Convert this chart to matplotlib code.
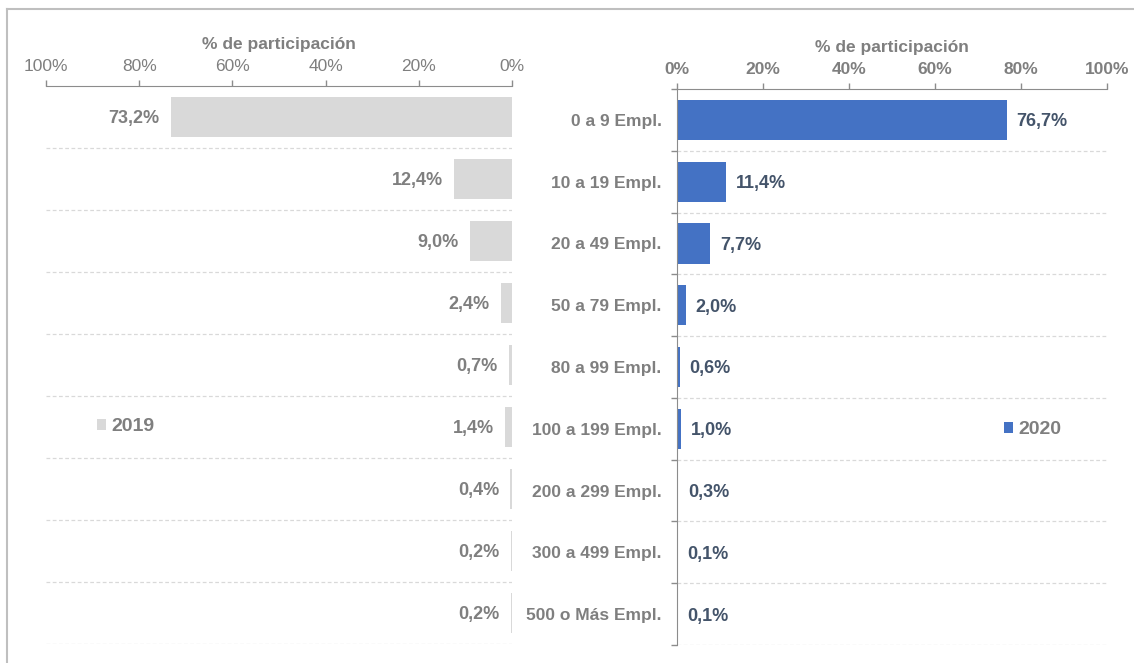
import matplotlib.pyplot as plt
from matplotlib.lines import Line2D
import numpy as np

plt.rcParams['font.family'] = ['Liberation Sans', 'DejaVu Sans']

categories = ['0 a 9 Empl.', '10 a 19 Empl.', '20 a 49 Empl.', '50 a 79 Empl.',
              '80 a 99 Empl.', '100 a 199 Empl.', '200 a 299 Empl.',
              '300 a 499 Empl.', '500 o Más Empl.']
share_2019 = [73.2, 12.4, 9.0, 2.4, 0.7, 1.4, 0.4, 0.2, 0.2]
share_2020 = [76.7, 11.4, 7.7, 2.0, 0.6, 1.0, 0.3, 0.1, 0.1]
xticks = [0, 20, 40, 60, 80, 100]

c_2019 = '#d9d9d9'
c_2020 = '#4472c4'
c_text = '#7f7f7f'
c_value = '#44546a'
c_grid = '#d9d9d9'
c_axis = '#8c8c8c'

fs = 12.5


def pct(v):
    return ('%.1f%%' % v).replace('.', ',')


fig = plt.figure(figsize=(11.34, 6.63), dpi=100)

# outer frame (left and top edges only are inside the canvas)
fig.add_artist(Line2D([7 / 1134, 7 / 1134], [0, 1 - 9 / 663],
                      transform=fig.transFigure, color='#bfbfbf', lw=1.5))
fig.add_artist(Line2D([7 / 1134, 1], [1 - 9 / 663, 1 - 9 / 663],
                      transform=fig.transFigure, color='#bfbfbf', lw=1.5))

ypos = np.arange(len(categories))
bounds = np.arange(len(categories) + 1) - 0.5

#---- 2019, mirrored

ax1 = fig.add_axes([46 / 1134, 1 - 644 / 663, 466 / 1134, 558 / 663])
ax1.barh(ypos, share_2019, height=0.65, color=c_2019, label='2019')
ax1.set_xlim(100, 0)
ax1.set_ylim(bounds[-1], bounds[0])
ax1.xaxis.set_ticks_position('top')
ax1.xaxis.set_label_position('top')
ax1.set_xticks(xticks)
ax1.set_xticklabels(['%d%%' % t for t in xticks])
ax1.set_yticks([])
ax1.tick_params(axis='x', length=4.5, width=1, color=c_axis, pad=4,
                labelsize=fs, labelcolor=c_text)
ax1.set_xlabel('% de participación', fontsize=fs, fontweight='bold',
               color=c_text, labelpad=7)
for s in ['left', 'right', 'bottom']:
    ax1.spines[s].set_visible(False)
ax1.spines['top'].set_color(c_axis)
for b in bounds[1:]:
    ax1.axhline(b, color=c_grid, lw=0.9, ls=(0, (3, 2)), zorder=0)
for y, v in zip(ypos, share_2019):
    ax1.annotate(pct(v), (v, y), xytext=(-8, 0), textcoords='offset points',
                 ha='right', va='center_baseline', fontsize=13,
                 fontweight='bold', color=c_text)
ax1.legend(loc='center left', bbox_to_anchor=(0.11, 0.389), frameon=False,
           handlelength=0.45, handleheight=0.45, handletextpad=0.3,
           borderpad=0, borderaxespad=0, labelcolor=c_text,
           prop={'size': 14, 'weight': 'bold'})

#---- 2020

ax2 = fig.add_axes([677 / 1134, 1 - 645 / 663, 430 / 1134, 556 / 663])
ax2.barh(ypos, share_2020, height=0.65, color=c_2020, label='2020')
ax2.set_xlim(0, 100)
ax2.set_ylim(bounds[-1], bounds[0])
ax2.xaxis.set_ticks_position('top')
ax2.xaxis.set_label_position('top')
ax2.set_xticks(xticks)
ax2.set_xticklabels(['%d%%' % t for t in xticks], fontweight='bold')
ax2.tick_params(axis='x', length=4.5, width=1, color=c_axis, pad=4,
                labelsize=fs, labelcolor=c_text)
ax2.set_xlabel('% de participación', fontsize=fs, fontweight='bold',
               color=c_text, labelpad=7)
ax2.set_yticks(ypos)
ax2.set_yticklabels(categories, fontweight='bold')
ax2.tick_params(axis='y', which='major', length=0, pad=11, labelsize=fs,
                labelcolor=c_text)
ax2.set_yticks(bounds, minor=True)
ax2.tick_params(axis='y', which='minor', length=4.5, width=1, color=c_axis)
for s in ['right', 'bottom']:
    ax2.spines[s].set_visible(False)
ax2.spines['top'].set_color(c_axis)
ax2.spines['left'].set_color(c_axis)
for b in bounds[1:]:
    ax2.axhline(b, color=c_grid, lw=0.9, ls=(0, (3, 2)), zorder=0)
for y, v in zip(ypos, share_2020):
    ax2.annotate(pct(v), (v, y), xytext=(7, 0), textcoords='offset points',
                 ha='left', va='center_baseline', fontsize=13,
                 fontweight='bold', color=c_value)
ax2.legend(loc='center left', bbox_to_anchor=(0.76, 0.387), frameon=False,
           handlelength=0.45, handleheight=0.45, handletextpad=0.3,
           borderpad=0, borderaxespad=0, labelcolor=c_text,
           prop={'size': 14, 'weight': 'bold'})

plt.savefig('out.png', dpi=100)
plt.close()
